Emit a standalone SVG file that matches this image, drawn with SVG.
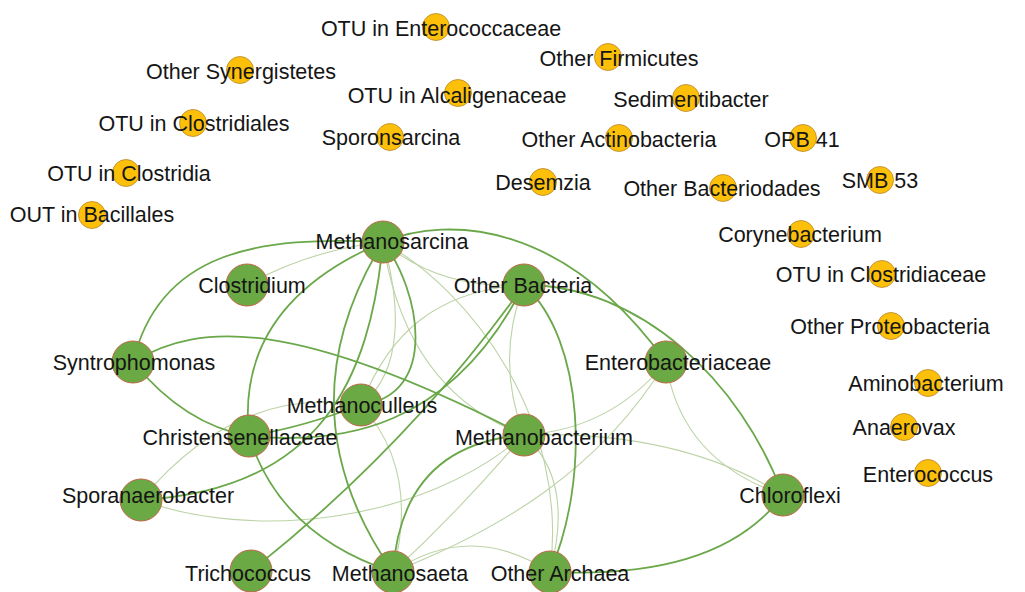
<svg xmlns="http://www.w3.org/2000/svg" width="1025" height="592" viewBox="0 0 1025 592">
<style>
.bg{fill:#ffffff}
.d{fill:none;stroke:#6aa84a;stroke-width:1.8}
.l{fill:none;stroke:#bcd3a6;stroke-width:1.1}
.g{fill:#6aa943;stroke:#c0674a;stroke-width:1}
.y{fill:#fcc00a;stroke:#b8862b;stroke-width:0.8}
text{font-family:"Liberation Sans",Arial,sans-serif;font-size:21.5px;fill:#151515;text-anchor:middle}
</style>
<rect class="bg" x="0" y="0" width="1025" height="592"/>
<g id="connectors">
<path class="l" d="M383,242 Q310,250 247,285"/>
<path class="l" d="M383,242 Q440,290 524,285"/>
<path class="l" d="M383,242 C395,320 430,400 524,435"/>
<path class="l" d="M383,242 C470,290 570,420 550,572"/>
<path class="l" d="M383,242 C400,300 405,370 361,405"/>
<path class="l" d="M524,285 C440,290 390,330 361,405"/>
<path class="l" d="M524,285 Q495,360 524,435"/>
<path class="l" d="M361,405 C300,395 220,405 141,500"/>
<path class="l" d="M361,405 Q420,470 393,572"/>
<path class="l" d="M141,500 C250,540 420,525 524,435"/>
<path class="l" d="M393,572 Q460,510 524,435"/>
<path class="l" d="M393,572 C500,530 600,470 666,362"/>
<path class="l" d="M393,572 Q470,520 550,572"/>
<path class="l" d="M666,362 Q610,430 524,435"/>
<path class="l" d="M666,362 Q680,460 783,495"/>
<path class="l" d="M524,435 Q680,430 783,495"/>
<path class="l" d="M524,435 Q575,480 550,572"/>
<path class="d" d="M383,242 C260,236 160,250 133,362"/>
<path class="d" d="M383,242 C450,215 565,222 666,362"/>
<path class="d" d="M524,285 C640,285 740,380 783,495"/>
<path class="d" d="M524,285 C585,340 590,480 550,572"/>
<path class="d" d="M133,362 C200,320 300,320 524,435"/>
<path class="d" d="M133,362 Q185,425 249,436"/>
<path class="d" d="M249,436 Q235,305 383,242"/>
<path class="d" d="M249,436 Q300,428 361,405"/>
<path class="d" d="M249,436 C340,445 450,430 524,285"/>
<path class="d" d="M249,436 Q280,535 393,572"/>
<path class="d" d="M141,500 C320,490 370,380 383,242"/>
<path class="d" d="M383,242 Q280,410 393,572"/>
<path class="d" d="M383,242 C420,290 440,395 361,405"/>
<path class="d" d="M251,571 Q410,445 524,285"/>
<path class="d" d="M524,435 C460,440 400,470 393,572"/>
<path class="d" d="M783,495 Q720,580 550,572"/>
</g>
<g id="n-methanosarcina"><circle class="g" cx="383" cy="242" r="21"/><text x="392" y="249">Methanosarcina</text></g>
<g id="n-clostridium"><circle class="g" cx="247" cy="285" r="21"/><text x="252" y="293">Clostridium</text></g>
<g id="n-syntrophomonas"><circle class="g" cx="133" cy="362" r="21"/><text x="134" y="370">Syntrophomonas</text></g>
<g id="n-methanoculleus"><circle class="g" cx="361" cy="405" r="21"/><text x="362" y="413">Methanoculleus</text></g>
<g id="n-christensenellaceae"><circle class="g" cx="249" cy="436" r="21"/><text x="240" y="445">Christensenellaceae</text></g>
<g id="n-sporanaerobacter"><circle class="g" cx="141" cy="500" r="21"/><text x="148" y="503">Sporanaerobacter</text></g>
<g id="n-trichococcus"><circle class="g" cx="251" cy="571" r="21"/><text x="248" y="581">Trichococcus</text></g>
<g id="n-methanosaeta"><circle class="g" cx="393" cy="572" r="21"/><text x="400" y="581">Methanosaeta</text></g>
<g id="n-otherbacteria"><circle class="g" cx="524" cy="285" r="21"/><text x="523" y="293">Other Bacteria</text></g>
<g id="n-enterobacteriaceae"><circle class="g" cx="666" cy="362" r="21"/><text x="678" y="370">Enterobacteriaceae</text></g>
<g id="n-methanobacterium"><circle class="g" cx="524" cy="435" r="21"/><text x="544" y="445">Methanobacterium</text></g>
<g id="n-otherarchaea"><circle class="g" cx="550" cy="572" r="21"/><text x="560" y="581">Other Archaea</text></g>
<g id="n-chloroflexi"><circle class="g" cx="783" cy="495" r="21"/><text x="790" y="503">Chloroflexi</text></g>
<g id="n-otu-enterococcaceae"><circle class="y" cx="436" cy="27" r="13.5"/><text x="441" y="36">OTU in Enterococcaceae</text></g>
<g id="n-other-synergistetes"><circle class="y" cx="240" cy="70" r="13.5"/><text x="241" y="79">Other Synergistetes</text></g>
<g id="n-otu-alcaligenaceae"><circle class="y" cx="458" cy="93" r="13.5"/><text x="457" y="103">OTU in Alcaligenaceae</text></g>
<g id="n-otu-clostridiales"><circle class="y" cx="193" cy="123" r="13.5"/><text x="194" y="131">OTU in Clostridiales</text></g>
<g id="n-sporonsarcina"><circle class="y" cx="390" cy="137" r="13.5"/><text x="391" y="145">Sporonsarcina</text></g>
<g id="n-otu-clostridia"><circle class="y" cx="126" cy="173" r="13.5"/><text x="129" y="181">OTU in Clostridia</text></g>
<g id="n-out-bacillales"><circle class="y" cx="92" cy="215" r="13.5"/><text x="92" y="222">OUT in Bacillales</text></g>
<g id="n-other-firmicutes"><circle class="y" cx="608" cy="57" r="13.5"/><text x="619" y="66">Other Firmicutes</text></g>
<g id="n-sedimentibacter"><circle class="y" cx="686" cy="98" r="13.5"/><text x="691" y="107">Sedimentibacter</text></g>
<g id="n-other-actinobacteria"><circle class="y" cx="619" cy="138" r="13.5"/><text x="619" y="147">Other Actinobacteria</text></g>
<g id="n-opb41"><circle class="y" cx="803" cy="138" r="13.5"/><text x="802" y="147">OPB 41</text></g>
<g id="n-desemzia"><circle class="y" cx="543" cy="182" r="13.5"/><text x="543" y="190">Desemzia</text></g>
<g id="n-other-bacteriodades"><circle class="y" cx="723" cy="188" r="13.5"/><text x="722" y="196">Other Bacteriodades</text></g>
<g id="n-smb53"><circle class="y" cx="880" cy="180" r="13.5"/><text x="880" y="188">SMB 53</text></g>
<g id="n-corynebacterium"><circle class="y" cx="801" cy="234" r="13.5"/><text x="800" y="242">Corynebacterium</text></g>
<g id="n-otu-clostridiaceae"><circle class="y" cx="882" cy="274" r="13.5"/><text x="881" y="282">OTU in Clostridiaceae</text></g>
<g id="n-other-proteobacteria"><circle class="y" cx="891" cy="326" r="13.5"/><text x="890" y="334">Other Proteobacteria</text></g>
<g id="n-aminobacterium"><circle class="y" cx="928" cy="383" r="13.5"/><text x="926" y="391">Aminobacterium</text></g>
<g id="n-anaerovax"><circle class="y" cx="904" cy="427" r="13.5"/><text x="904" y="435">Anaerovax</text></g>
<g id="n-enterococcus"><circle class="y" cx="928" cy="473" r="13.5"/><text x="928" y="482">Enterococcus</text></g>
</svg>
